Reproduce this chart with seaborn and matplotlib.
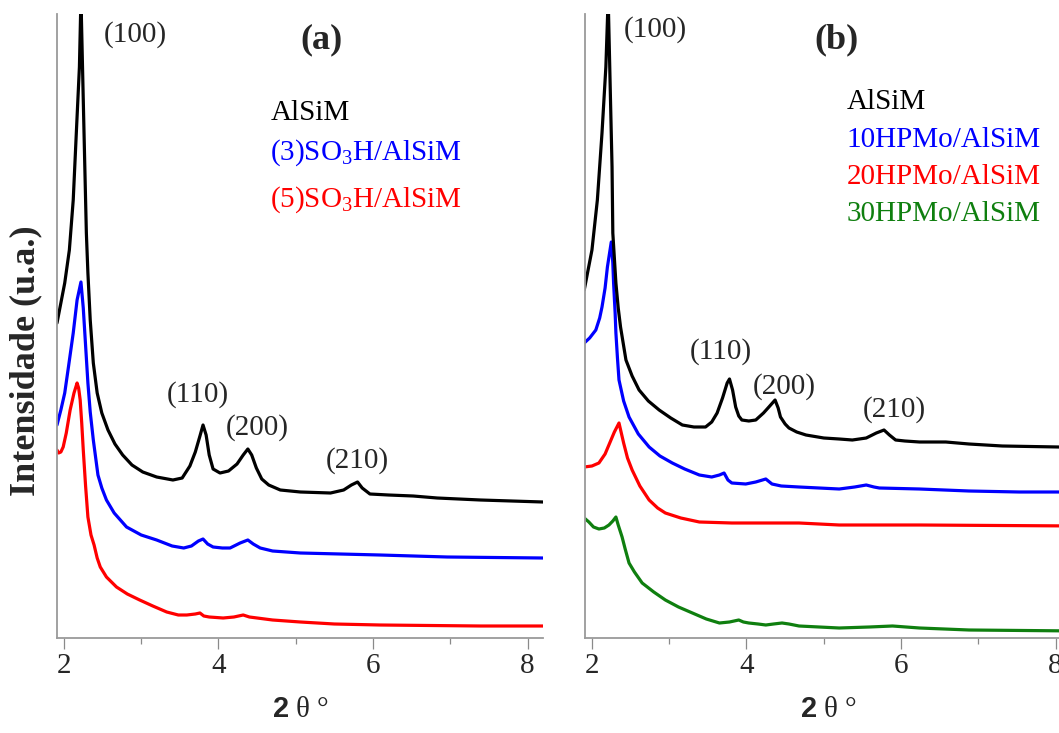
import matplotlib
matplotlib.use("Agg")
import matplotlib.pyplot as plt
from matplotlib.ticker import MultipleLocator
import seaborn as sns

# ---- diffractogram data (2θ in degrees, stacked intensity in a.u.) ----
# Panel (a)
a_alsim_x = [1.91, 1.96, 2.01, 2.07, 2.12, 2.16, 2.20, 2.22, 2.25, 2.27, 2.29, 2.31, 2.34,
             2.38, 2.43, 2.49, 2.57, 2.66, 2.76, 2.88, 3.02, 3.20, 3.41, 3.53, 3.63, 3.70,
             3.76, 3.80, 3.84, 3.88, 3.93, 4.02, 4.13, 4.24, 4.32, 4.38, 4.43, 4.49, 4.56,
             4.65, 4.80, 5.06, 5.45, 5.62, 5.72, 5.80, 5.86, 5.96, 6.20, 6.52, 6.83, 7.39, 8.20]
a_alsim_y = [315, 335, 355, 388, 438, 505, 571, 640, 538, 471, 405, 365, 318,
             275, 245, 225, 208, 194, 183, 173, 166, 161, 158, 160, 172, 186,
             202, 213, 203, 183, 169, 165, 167, 174, 183, 189, 183, 170, 159,
             153, 148, 146, 145, 148, 153, 156, 150, 144, 143, 142, 140, 138, 136]

a_so3h3_x = [1.91, 1.96, 2.01, 2.06, 2.12, 2.17, 2.22, 2.25, 2.27, 2.29, 2.31, 2.34, 2.38,
             2.44, 2.49, 2.55, 2.65, 2.81, 3.00, 3.20, 3.40, 3.55, 3.65, 3.74, 3.80, 3.86,
             3.93, 4.05, 4.15, 4.28, 4.38, 4.45, 4.54, 4.70, 5.06, 6.09, 6.96, 8.20]
a_so3h3_y = [213, 228, 245, 272, 305, 338, 356, 330, 305, 280, 255, 226, 198,
             163, 150, 138, 125, 111, 103, 98, 92, 90, 92, 97, 99, 94,
             91, 90, 90, 95, 98, 94, 90, 87, 85, 83, 81, 80]

a_so3h5_x = [1.91, 1.93, 1.96, 1.99, 2.03, 2.08, 2.13, 2.17, 2.19, 2.21, 2.23, 2.25, 2.28,
             2.31, 2.35, 2.39, 2.43, 2.47, 2.55, 2.68, 2.82, 2.98, 3.15, 3.33, 3.48, 3.59,
             3.70, 3.76, 3.81, 3.88, 4.06, 4.20, 4.32, 4.40, 4.50, 4.70, 5.06, 5.50, 6.09,
             7.39, 8.20]
a_so3h5_y = [188, 185, 186, 191, 205, 228, 245, 255, 250, 238, 215, 188, 152,
             121, 103, 93, 80, 71, 61, 51, 44, 38, 32, 26, 23, 23,
             24, 25, 22, 21, 20, 21, 23, 21, 20, 18, 16, 14, 13,
             12, 12]

# Panel (b)
b_alsim_x = [1.90, 1.95, 2.00, 2.07, 2.13, 2.18, 2.21, 2.24, 2.26, 2.27, 2.29, 2.31, 2.34,
             2.37, 2.44, 2.52, 2.61, 2.73, 2.87, 3.02, 3.17, 3.32, 3.47, 3.55, 3.62, 3.69,
             3.75, 3.78, 3.82, 3.86, 3.90, 3.94, 4.03, 4.12, 4.22, 4.29, 4.37, 4.41, 4.44,
             4.50, 4.55, 4.65, 4.77, 5.00, 5.20, 5.37, 5.55, 5.68, 5.78, 5.85, 5.93, 6.05,
             6.24, 6.58, 6.88, 7.31, 8.04, 8.30]
b_alsim_y = [348, 368, 388, 438, 505, 571, 640, 538, 471, 405, 380, 355, 330,
             311, 278, 262, 248, 237, 228, 220, 213, 211, 211, 216, 225, 240,
             255, 259, 248, 231, 222, 218, 217, 218, 225, 231, 238, 230, 221,
             214, 210, 206, 203, 200, 199, 198, 200, 205, 208, 203, 198, 197,
             196, 196, 194, 192, 191, 191]

b_hpmo10_x = [1.90, 1.97, 2.05, 2.10, 2.13, 2.17, 2.20, 2.25, 2.27, 2.28, 2.30, 2.31, 2.33,
              2.35, 2.41, 2.48, 2.60, 2.74, 2.88, 3.04, 3.20, 3.39, 3.55, 3.65, 3.71, 3.76,
              3.81, 3.99, 4.12, 4.25, 4.33, 4.45, 4.68, 5.20, 5.40, 5.55, 5.65, 5.72, 6.24,
              6.88, 7.53, 8.30]
b_hpmo10_y = [295, 300, 308, 320, 331, 350, 371, 396, 375, 355, 325, 305, 280,
              258, 237, 221, 204, 191, 182, 175, 169, 163, 161, 163, 165, 158,
              155, 154, 156, 159, 154, 152, 151, 149, 151, 153, 151, 150, 149,
              147, 146, 146]

b_hpmo20_x = [1.90, 2.00, 2.09, 2.17, 2.23, 2.29, 2.35, 2.38, 2.41, 2.46, 2.52, 2.62, 2.74,
              2.85, 2.95, 3.15, 3.39, 3.81, 4.25, 4.68, 5.20, 6.24, 8.30]
b_hpmo20_y = [171, 172, 175, 184, 195, 206, 215, 205, 195, 180, 168, 152, 138,
              130, 125, 120, 116, 115, 115, 115, 113, 113, 112]

b_hpmo30_x = [1.90, 1.96, 2.02, 2.09, 2.16, 2.22, 2.27, 2.31, 2.34, 2.39, 2.43, 2.48, 2.55,
              2.65, 2.80, 2.95, 3.12, 3.30, 3.48, 3.65, 3.78, 3.90, 3.96, 4.03, 4.15, 4.25,
              4.35, 4.46, 4.55, 4.68, 5.20, 5.59, 5.89, 6.24, 6.88, 8.30]
b_hpmo30_y = [120, 116, 111, 109, 110, 113, 117, 121, 113, 101, 89, 75, 66,
              55, 46, 38, 31, 25, 19, 15, 16, 18, 16, 15, 14, 13,
              14, 15, 14, 12, 10, 11, 12, 10, 8, 7]

a_labels = ["AlSiM", "(3)SO$_3$H/AlSiM", "(5)SO$_3$H/AlSiM"]
b_labels = ["AlSiM", "10HPMo/AlSiM", "20HPMo/AlSiM", "30HPMo/AlSiM"]
hkl = ["(100)", "(110)", "(200)", "(210)"]

BLACK, BLUE, RED, GREEN = "#000000", "#0000ff", "#ff0000", "#0f7f0f"

sns.set_theme(style="white")
plt.rcParams["font.family"] = ["Liberation Serif", "DejaVu Serif"]
plt.rcParams["mathtext.fontset"] = "custom"
plt.rcParams["mathtext.rm"] = "Liberation Serif"
plt.rcParams["mathtext.it"] = "Liberation Serif:italic"
plt.rcParams["mathtext.bf"] = "Liberation Sans:bold"

W, H = 1059, 733
fig = plt.figure(figsize=(W / 100, H / 100), dpi=100)
fig.patch.set_facecolor("white")

ax_w = 486 / W
ax_h = 624 / H
ax_a = fig.add_axes([57 / W, 1 - 638 / H, ax_w, ax_h])
ax_b = fig.add_axes([585 / W, 1 - 638 / H, ax_w, ax_h])

LW = 2.3
panel_a = [(a_alsim_x, a_alsim_y, BLACK), (a_so3h3_x, a_so3h3_y, BLUE), (a_so3h5_x, a_so3h5_y, RED)]
panel_b = [(b_alsim_x, b_alsim_y, BLACK), (b_hpmo10_x, b_hpmo10_y, BLUE),
           (b_hpmo20_x, b_hpmo20_y, RED), (b_hpmo30_x, b_hpmo30_y, GREEN)]

for ax, series in ((ax_a, panel_a), (ax_b, panel_b)):
    # draw bottom curves first so the black pattern stays on top
    for xs, ys, col in reversed(series):
        sns.lineplot(x=xs, y=ys, ax=ax, color=col, lw=LW, estimator=None, sort=False)
    ax.set_xlim(1.91, 8.2)
    ax.set_ylim(0, 624)
    ax.set_yticks([])
    ax.xaxis.set_major_locator(MultipleLocator(2))
    ax.xaxis.set_minor_locator(MultipleLocator(1))
    ax.tick_params(axis="x", which="major", direction="out", length=8, width=0.9,
                   color="#8a8a8a", labelsize=21, pad=3, bottom=True)
    ax.tick_params(axis="x", which="minor", direction="out", length=4, width=0.9,
                   color="#8a8a8a", bottom=True)
    for side in ("top", "right"):
        ax.spines[side].set_visible(False)
    for side in ("left", "bottom"):
        ax.spines[side].set_color("#9a9a9a")
        ax.spines[side].set_linewidth(1.3)
    ax.set_facecolor("white")
    ax.set_xlabel(r"$\mathbf{2}$ θ °", fontsize=21, labelpad=13)
    ax.set_ylabel("")

ax_a.set_ylabel("Intensidade (u.a.)", fontsize=26, fontweight="bold", labelpad=4)
ax_a.yaxis.set_label_coords(-0.031, 0.445)

TS = 21
# panel (a) annotations
ax_a.text(2.51, 603, hkl[0], fontsize=TS, ha="left", va="center")
ax_a.text(3.73, 243, hkl[1], fontsize=TS, ha="center", va="center")
ax_a.text(4.50, 210, hkl[2], fontsize=TS, ha="center", va="center")
ax_a.text(5.80, 177, hkl[3], fontsize=TS, ha="center", va="center")
ax_a.text(5.33, 598, "(a)", fontsize=26, fontweight="bold", ha="center", va="center")
for lab, col, yy in zip(a_labels, [BLACK, BLUE, RED], [525, 485, 438]):
    ax_a.text(4.67, yy, lab, fontsize=TS, color=col, ha="left", va="center")

# panel (b) annotations
ax_b.text(2.41, 608, hkl[0], fontsize=TS, ha="left", va="center")
ax_b.text(3.67, 286, hkl[1], fontsize=TS, ha="center", va="center")
ax_b.text(4.49, 251, hkl[2], fontsize=TS, ha="center", va="center")
ax_b.text(5.91, 228, hkl[3], fontsize=TS, ha="center", va="center")
ax_b.text(5.17, 598, "(b)", fontsize=26, fontweight="bold", ha="center", va="center")
for lab, col, yy in zip(b_labels, [BLACK, BLUE, RED, GREEN], [536, 498, 461, 424]):
    ax_b.text(5.30, yy, lab, fontsize=TS, color=col, ha="left", va="center")

fig.savefig("out.png", dpi=100, facecolor="white")
